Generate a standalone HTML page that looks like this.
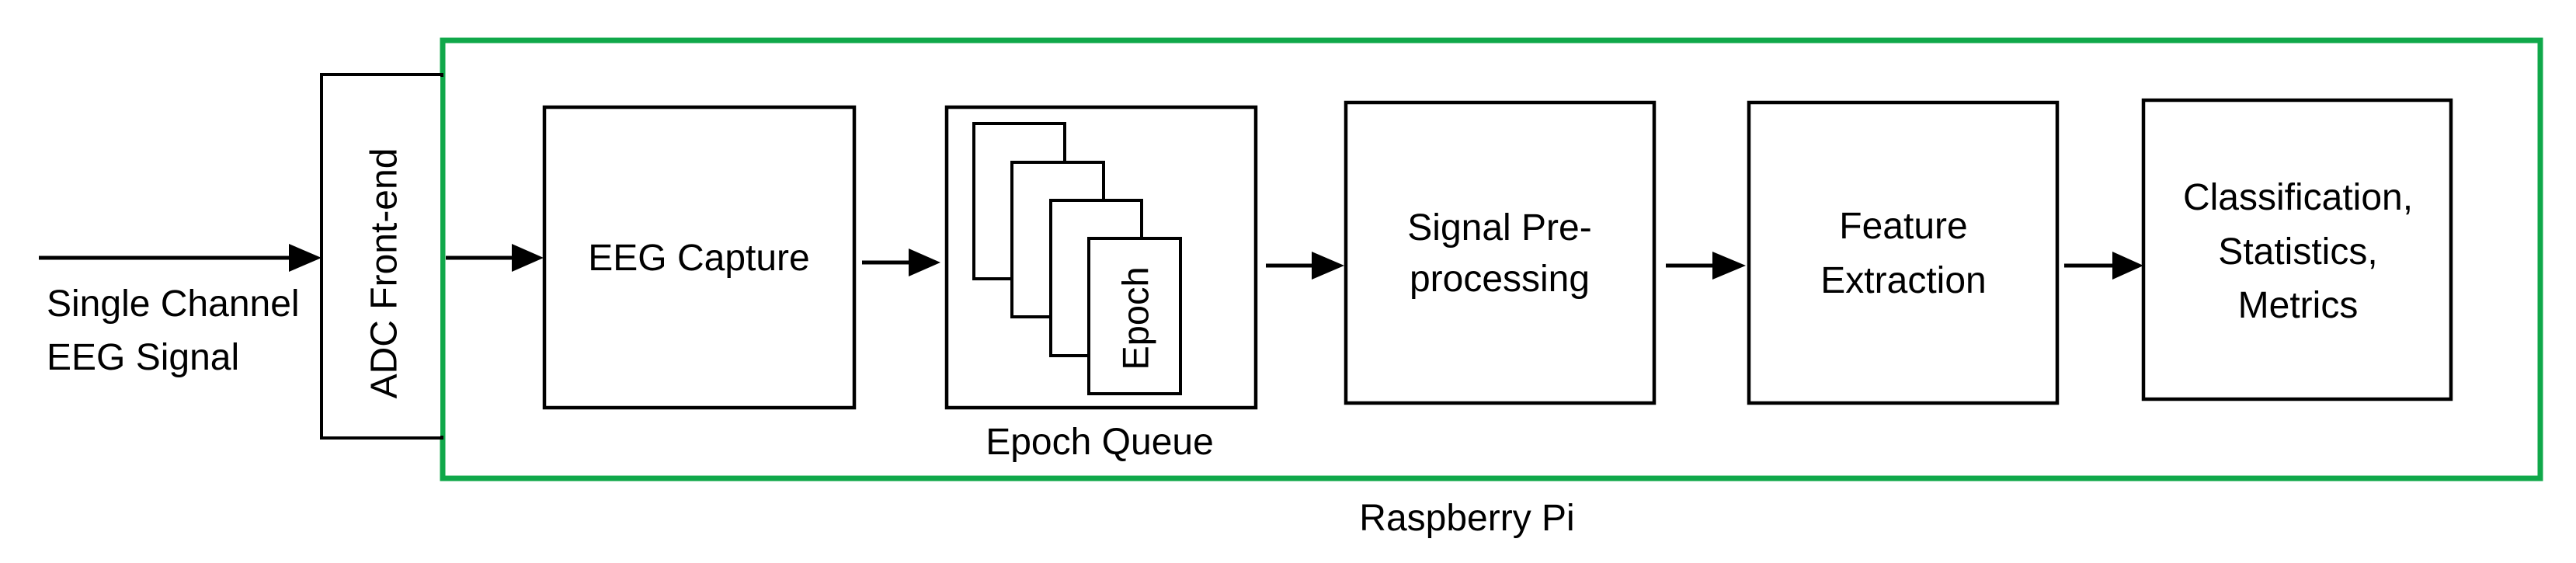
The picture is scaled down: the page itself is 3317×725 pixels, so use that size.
<!DOCTYPE html>
<html><head><meta charset="utf-8"><style>
html,body{margin:0;padding:0;background:#fff;}
svg{display:block;}
text{font-family:"Liberation Sans",sans-serif;fill:#000;}
</style></head><body>
<svg width="3317" height="725" viewBox="0 0 3317 725" xmlns="http://www.w3.org/2000/svg">
<rect width="3317" height="725" fill="#fff"/>
<rect x="570" y="52" width="2701" height="564" fill="none" stroke="#10a84a" stroke-width="7"/>
<rect x="414" y="96" width="155" height="468" fill="#fff" stroke="#000" stroke-width="4"/>
<rect x="567" y="99" width="6" height="462" fill="#10a84a"/>
<text x="495" y="352" font-size="48" text-anchor="middle" dominant-baseline="central" transform="rotate(-90 495 352)">ADC Front-end</text>
<line x1="50" y1="332" x2="376" y2="332" stroke="#000" stroke-width="5"/>
<polygon points="372,314 414,332 372,350" fill="#000"/>
<text x="60" y="407" font-size="48">Single Channel</text>
<text x="60" y="476" font-size="48">EEG Signal</text>
<line x1="574" y1="332" x2="662" y2="332" stroke="#000" stroke-width="5"/>
<polygon points="659,314 700,332 659,350" fill="#000"/>
<rect x="701" y="138" width="399" height="387" fill="none" stroke="#000" stroke-width="4.5"/>
<text x="900" y="348" font-size="48" text-anchor="middle">EEG Capture</text>
<line x1="1110" y1="338" x2="1172" y2="338" stroke="#000" stroke-width="5"/>
<polygon points="1170,320 1211,338 1170,356" fill="#000"/>
<rect x="1219" y="138" width="398" height="387" fill="none" stroke="#000" stroke-width="4.5"/>
<rect x="1254" y="159" width="117" height="200" fill="#fff" stroke="#000" stroke-width="4"/>
<rect x="1303" y="209" width="118" height="199" fill="#fff" stroke="#000" stroke-width="4"/>
<rect x="1353" y="258" width="117" height="200" fill="#fff" stroke="#000" stroke-width="4"/>
<rect x="1402" y="307" width="118" height="200" fill="#fff" stroke="#000" stroke-width="4"/>
<text x="1462" y="410" font-size="47" text-anchor="middle" dominant-baseline="central" transform="rotate(-90 1462 410)">Epoch</text>
<text x="1416" y="585" font-size="48" text-anchor="middle">Epoch Queue</text>
<line x1="1630" y1="342" x2="1692" y2="342" stroke="#000" stroke-width="5"/>
<polygon points="1689,324 1731,342 1689,360" fill="#000"/>
<rect x="1733" y="132" width="397" height="387" fill="none" stroke="#000" stroke-width="4.5"/>
<text x="1931" y="309" font-size="48" text-anchor="middle">Signal Pre-</text>
<text x="1931" y="375" font-size="48" text-anchor="middle">processing</text>
<line x1="2145" y1="342" x2="2208" y2="342" stroke="#000" stroke-width="5"/>
<polygon points="2205,324 2248,342 2205,360" fill="#000"/>
<rect x="2252" y="132" width="397" height="387" fill="none" stroke="#000" stroke-width="4.5"/>
<text x="2451" y="307" font-size="48" text-anchor="middle">Feature</text>
<text x="2451" y="377" font-size="48" text-anchor="middle">Extraction</text>
<line x1="2658" y1="342" x2="2722" y2="342" stroke="#000" stroke-width="5"/>
<polygon points="2720,324 2760,342 2720,360" fill="#000"/>
<rect x="2760" y="129" width="396" height="385" fill="none" stroke="#000" stroke-width="4.5"/>
<text x="2959" y="270" font-size="48" text-anchor="middle">Classification,</text>
<text x="2959" y="340" font-size="48" text-anchor="middle">Statistics,</text>
<text x="2959" y="409" font-size="48" text-anchor="middle">Metrics</text>
<text x="1889" y="683" font-size="48" text-anchor="middle">Raspberry Pi</text>
</svg>
</body></html>
